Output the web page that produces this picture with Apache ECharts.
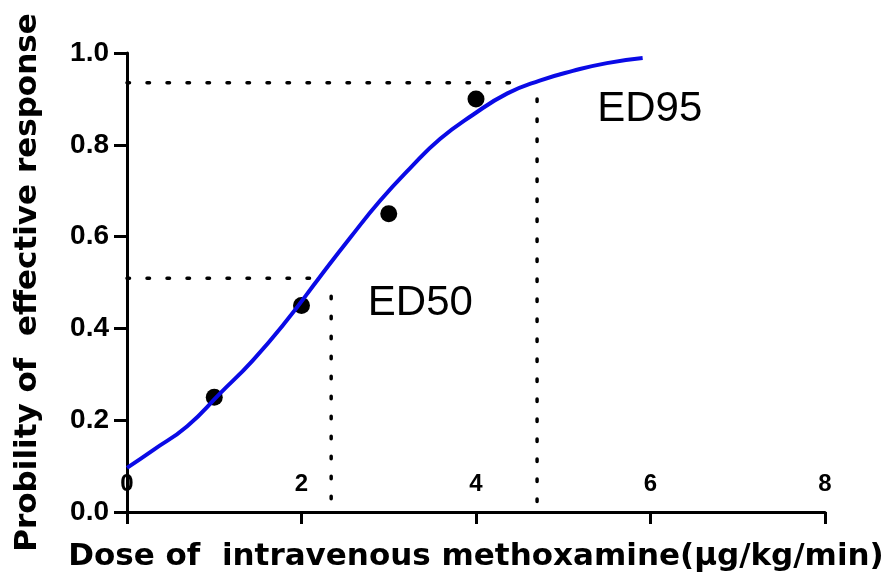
<!DOCTYPE html>
<html>
<head>
<meta charset="utf-8">
<script src="https://cdn.jsdelivr.net/npm/echarts@6/dist/echarts.min.js"></script>
<style>html,body{margin:0;padding:0;background:#fff;}#c{width:894px;height:578px;}</style>
</head>
<body>
<div id="c"></div>
<script>
// Observed points
const doseObs = [1, 2, 3, 4];
const respObs = [0.25, 0.45, 0.65, 0.90];
// Fitted curve
const curveX = [0, 0.30, 0.69, 1.07, 1.44, 1.83, 2.21, 2.56, 2.90, 3.24, 3.59, 3.97, 4.36, 4.73, 5.11, 5.50, 5.91];
const curveY = [0.096, 0.135, 0.187, 0.259, 0.33, 0.417, 0.512, 0.598, 0.678, 0.748, 0.813, 0.866, 0.912, 0.940, 0.961, 0.978, 0.989];
// Dotted guide lines
const ed50H = [[0, 0.509], [2.2, 0.509]];
const ed50V = [[2.34, 0.47], [2.34, 0]];
const ed95H = [[0, 0.935], [4.4, 0.935]];
const ed95V = [[4.7, 0.90], [4.7, 0]];
// Annotations
const edLabels = [[2.76, 0.454, 'ED50'], [5.39, 0.878, 'ED95']];
const xTicks = [0, 2, 4, 6, 8];
const yTicks = [0, 0.2, 0.4, 0.6, 0.8, 1.0];

const FONT = 'Arial, "Liberation Sans", sans-serif';
const TFONT = '"DejaVu Sans", Arial, sans-serif';
const dotted = {color: '#000', width: 3.5, type: [2.5, 17.5], cap: 'round'};
const chart = echarts.init(document.getElementById('c'));
chart.setOption({
  animation: false,
  backgroundColor: '#fff',
  grid: {left: 127, right: 69, top: 53, bottom: 66, containLabel: false, outerBoundsMode: 'none'},
  xAxis: {
    type: 'value', min: xTicks[0], max: xTicks[xTicks.length-1], interval: 2,
    name: 'Dose of  intravenous methoxamine(μg/kg/min)', nameLocation: 'middle', nameGap: 29,
    nameTextStyle: {fontFamily: TFONT, fontWeight: 'bold', fontSize: 31, color: '#000'},
    axisLine: {lineStyle: {color: '#000', width: 3}},
    axisTick: {show: true, inside: false, length: 12, lineStyle: {color: '#000', width: 3}},
    axisLabel: {inside: true, margin: 16, fontFamily: FONT, fontWeight: 'bold', fontSize: 24, color: '#000',
      formatter: v => String(v)},
    splitLine: {show: false}
  },
  yAxis: {
    type: 'value', min: yTicks[0], max: yTicks[yTicks.length-1], interval: 0.2,
    name: 'Probility of  effective response', nameLocation: 'middle', nameGap: 84, nameRotate: 90,
    nameTextStyle: {fontFamily: TFONT, fontWeight: 'bold', fontSize: 31, color: '#000'},
    axisLine: {show: true, lineStyle: {color: '#000', width: 3}},
    axisTick: {show: true, inside: false, length: 13, lineStyle: {color: '#000', width: 3}},
    axisLabel: {margin: 18, fontFamily: FONT, fontWeight: 'bold', fontSize: 28, color: '#000',
      formatter: v => v.toFixed(1)},
    splitLine: {show: false}
  },
  series: [
    {type: 'line', data: ed50H, showSymbol: false, lineStyle: dotted, silent: true},
    {type: 'line', data: ed50V, showSymbol: false, lineStyle: dotted, silent: true},
    {type: 'line', data: ed95H, showSymbol: false, lineStyle: dotted, silent: true},
    {type: 'line', data: ed95V, showSymbol: false, lineStyle: dotted, silent: true},
    {type: 'line', data: curveX.map((x, i) => [x, curveY[i]]), smooth: 0.5, showSymbol: false,
      lineStyle: {color: '#0a0ae6', width: 4}},
    {type: 'scatter', data: doseObs.map((x, i) => [x, respObs[i]]), symbolSize: 17,
      itemStyle: {color: '#000', opacity: 1}},
    {type: 'scatter', data: edLabels.map(d => ({value: [d[0], d[1]], name: d[2]})), symbolSize: 0,
      itemStyle: {opacity: 1},
      label: {show: true, position: 'right', distance: 0, formatter: p => p.name,
        fontFamily: FONT, fontSize: 42, color: '#000'}}
  ]
});
</script>
</body>
</html>
